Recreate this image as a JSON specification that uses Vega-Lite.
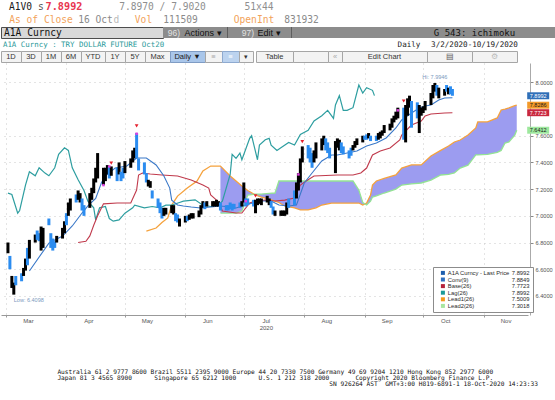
{
  "$schema": "https://vega.github.io/schema/vega-lite/v6.json",
  "background": "#ffffff",
  "padding": 0,
  "spacing": 0,
  "data": {"values": [{}]},
  "config": {
    "view": {"stroke": null}, "concat": {"spacing": 0}, "font": "Liberation Sans",
    "axisY": {"labelFontSize": 5.6, "labelColor": "#555555", "tickSize": 3, "tickColor": "#888888", "domainColor": "#aaaaaa", "offset": 2, "labelPadding": 2, "grid": true, "gridDash": [1, 4], "gridColor": "#c8c8c8", "labelOverlap": false}
  },
  "datasets": {
    "bars": [
      {"d":"2020-03-02","l":6.72,"h":6.80,"k":"up"},{"d":"2020-03-03","l":6.60,"h":6.70,"k":"dn"},{"d":"2020-03-04","l":6.46,"h":6.55,"k":"up"},{"d":"2020-03-05","l":6.41,"h":6.50,"k":"up"},{"d":"2020-03-06","l":6.48,"h":6.55,"k":"dn"},
      {"d":"2020-03-09","l":6.51,"h":6.57,"k":"dn"},{"d":"2020-03-10","l":6.55,"h":6.61,"k":"up"},{"d":"2020-03-11","l":6.59,"h":6.68,"k":"up"},{"d":"2020-03-12","l":6.63,"h":6.76,"k":"dn"},{"d":"2020-03-13","l":6.68,"h":6.82,"k":"up"},
      {"d":"2020-03-16","l":6.80,"h":6.86,"k":"up"},{"d":"2020-03-17","l":6.82,"h":6.89,"k":"dn"},{"d":"2020-03-18","l":6.81,"h":6.87,"k":"dn"},{"d":"2020-03-19","l":6.74,"h":6.92,"k":"up"},{"d":"2020-03-20","l":6.76,"h":6.91,"k":"up"},
      {"d":"2020-03-23","l":6.93,"h":6.98,"k":"dn"},{"d":"2020-03-24","l":6.76,"h":6.87,"k":"dn"},{"d":"2020-03-25","l":6.74,"h":6.83,"k":"dn"},{"d":"2020-03-26","l":6.76,"h":6.81,"k":"dn"},{"d":"2020-03-27","l":6.80,"h":6.85,"k":"up"},
      {"d":"2020-03-30","l":6.83,"h":6.91,"k":"up"},{"d":"2020-03-31","l":6.87,"h":6.96,"k":"up"},{"d":"2020-04-01","l":6.93,"h":7.02,"k":"dn"},{"d":"2020-04-02","l":7.00,"h":7.10,"k":"up"},{"d":"2020-04-03","l":7.04,"h":7.13,"k":"up"},
      {"d":"2020-04-06","l":7.10,"h":7.16,"k":"dn"},{"d":"2020-04-07","l":7.12,"h":7.19,"k":"up"},{"d":"2020-04-08","l":7.10,"h":7.17,"k":"up"},{"d":"2020-04-09","l":7.04,"h":7.13,"k":"dn"},{"d":"2020-04-10","l":7.00,"h":7.08,"k":"dn"},
      {"d":"2020-04-13","l":7.06,"h":7.17,"k":"up"},{"d":"2020-04-14","l":7.12,"h":7.21,"k":"up"},{"d":"2020-04-15","l":7.17,"h":7.28,"k":"up"},{"d":"2020-04-16","l":7.25,"h":7.36,"k":"up"},{"d":"2020-04-17","l":7.28,"h":7.47,"k":"up"},
      {"d":"2020-04-20","l":7.23,"h":7.36,"k":"up"},{"d":"2020-04-21","l":7.26,"h":7.36,"k":"up"},{"d":"2020-04-22","l":7.31,"h":7.38,"k":"up"},{"d":"2020-04-23","l":7.28,"h":7.37,"k":"dn"},{"d":"2020-04-24","l":7.30,"h":7.37,"k":"up"},
      {"d":"2020-04-27","l":7.26,"h":7.36,"k":"dn"},{"d":"2020-04-28","l":7.31,"h":7.40,"k":"up"},{"d":"2020-04-29","l":7.26,"h":7.33,"k":"dn"},{"d":"2020-04-30","l":7.28,"h":7.36,"k":"dn"},{"d":"2020-05-01","l":7.32,"h":7.41,"k":"up"},
      {"d":"2020-05-04","l":7.36,"h":7.43,"k":"up"},{"d":"2020-05-05","l":7.40,"h":7.49,"k":"up"},{"d":"2020-05-06","l":7.43,"h":7.51,"k":"up"},{"d":"2020-05-07","l":7.43,"h":7.62,"k":"dn"},{"d":"2020-05-08","l":7.34,"h":7.43,"k":"dn"},
      {"d":"2020-05-11","l":7.31,"h":7.40,"k":"dn"},{"d":"2020-05-12","l":7.25,"h":7.32,"k":"dn"},{"d":"2020-05-13","l":7.22,"h":7.27,"k":"up"},{"d":"2020-05-14","l":7.21,"h":7.26,"k":"up"},{"d":"2020-05-15","l":7.13,"h":7.19,"k":"dn"},
      {"d":"2020-05-18","l":7.06,"h":7.13,"k":"dn"},{"d":"2020-05-19","l":7.02,"h":7.10,"k":"dn"},{"d":"2020-05-20","l":6.98,"h":7.06,"k":"dn"},{"d":"2020-05-21","l":7.00,"h":7.06,"k":"up"},{"d":"2020-05-22","l":7.01,"h":7.06,"k":"up"},
      {"d":"2020-05-25","l":7.02,"h":7.08,"k":"up"},{"d":"2020-05-26","l":7.01,"h":7.08,"k":"up"},{"d":"2020-05-27","l":6.96,"h":7.02,"k":"dn"},{"d":"2020-05-28","l":6.95,"h":7.01,"k":"dn"},{"d":"2020-05-29","l":6.92,"h":6.98,"k":"up"},
      {"d":"2020-06-01","l":6.95,"h":7.00,"k":"up"},{"d":"2020-06-02","l":6.96,"h":7.00,"k":"dn"},{"d":"2020-06-03","l":6.97,"h":7.01,"k":"up"},{"d":"2020-06-04","l":6.98,"h":7.02,"k":"up"},{"d":"2020-06-05","l":6.98,"h":7.02,"k":"up"},
      {"d":"2020-06-08","l":6.99,"h":7.04,"k":"up"},{"d":"2020-06-09","l":7.01,"h":7.08,"k":"up"},{"d":"2020-06-10","l":7.06,"h":7.11,"k":"up"},{"d":"2020-06-11","l":7.05,"h":7.10,"k":"dn"},{"d":"2020-06-12","l":7.07,"h":7.11,"k":"up"},
      {"d":"2020-06-15","l":7.07,"h":7.11,"k":"up"},{"d":"2020-06-16","l":7.07,"h":7.11,"k":"up"},{"d":"2020-06-17","l":7.07,"h":7.12,"k":"up"},{"d":"2020-06-18","l":7.07,"h":7.11,"k":"up"},{"d":"2020-06-19","l":7.04,"h":7.10,"k":"dn"},
      {"d":"2020-06-22","l":7.04,"h":7.08,"k":"dn"},{"d":"2020-06-23","l":7.04,"h":7.08,"k":"dn"},{"d":"2020-06-24","l":7.05,"h":7.10,"k":"dn"},{"d":"2020-06-25","l":7.04,"h":7.09,"k":"dn"},{"d":"2020-06-26","l":7.05,"h":7.09,"k":"dn"},
      {"d":"2020-06-29","l":7.06,"h":7.10,"k":"dn"},{"d":"2020-06-30","l":7.07,"h":7.11,"k":"up"},{"d":"2020-07-01","l":7.10,"h":7.25,"k":"up"},{"d":"2020-07-02","l":7.07,"h":7.13,"k":"dn"},{"d":"2020-07-03","l":7.08,"h":7.13,"k":"dn"},
      {"d":"2020-07-06","l":7.07,"h":7.12,"k":"dn"},{"d":"2020-07-07","l":7.02,"h":7.12,"k":"up"},{"d":"2020-07-08","l":7.08,"h":7.13,"k":"up"},{"d":"2020-07-09","l":7.09,"h":7.13,"k":"up"},{"d":"2020-07-10","l":7.08,"h":7.13,"k":"up"},
      {"d":"2020-07-13","l":7.10,"h":7.15,"k":"up"},{"d":"2020-07-14","l":7.08,"h":7.13,"k":"up"},{"d":"2020-07-15","l":7.06,"h":7.11,"k":"dn"},{"d":"2020-07-16","l":7.01,"h":7.07,"k":"dn"},{"d":"2020-07-17","l":7.00,"h":7.04,"k":"up"},
      {"d":"2020-07-20","l":7.00,"h":7.04,"k":"up"},{"d":"2020-07-21","l":7.00,"h":7.04,"k":"up"},{"d":"2020-07-22","l":7.00,"h":7.04,"k":"up"},{"d":"2020-07-23","l":7.01,"h":7.10,"k":"up"},{"d":"2020-07-24","l":7.06,"h":7.13,"k":"dn"},
      {"d":"2020-07-27","l":7.08,"h":7.19,"k":"dn"},{"d":"2020-07-28","l":7.13,"h":7.25,"k":"up"},{"d":"2020-07-29","l":7.19,"h":7.32,"k":"up"},{"d":"2020-07-30","l":7.25,"h":7.43,"k":"up"},{"d":"2020-07-31","l":7.40,"h":7.52,"k":"up"},
      {"d":"2020-08-03","l":7.43,"h":7.53,"k":"dn"},{"d":"2020-08-04","l":7.40,"h":7.51,"k":"dn"},{"d":"2020-08-05","l":7.36,"h":7.47,"k":"dn"},{"d":"2020-08-06","l":7.40,"h":7.49,"k":"up"},{"d":"2020-08-07","l":7.43,"h":7.55,"k":"up"},
      {"d":"2020-08-10","l":7.49,"h":7.58,"k":"up"},{"d":"2020-08-11","l":7.53,"h":7.60,"k":"up"},{"d":"2020-08-12","l":7.49,"h":7.58,"k":"dn"},{"d":"2020-08-13","l":7.47,"h":7.55,"k":"dn"},{"d":"2020-08-14","l":7.43,"h":7.51,"k":"dn"},
      {"d":"2020-08-17","l":7.32,"h":7.56,"k":"up"},{"d":"2020-08-18","l":7.51,"h":7.58,"k":"up"},{"d":"2020-08-19","l":7.49,"h":7.57,"k":"up"},{"d":"2020-08-20","l":7.47,"h":7.55,"k":"dn"},{"d":"2020-08-21","l":7.46,"h":7.52,"k":"dn"},
      {"d":"2020-08-24","l":7.43,"h":7.49,"k":"dn"},{"d":"2020-08-25","l":7.45,"h":7.51,"k":"dn"},{"d":"2020-08-26","l":7.49,"h":7.53,"k":"up"},{"d":"2020-08-27","l":7.51,"h":7.56,"k":"up"},{"d":"2020-08-28","l":7.53,"h":7.58,"k":"up"},
      {"d":"2020-08-31","l":7.55,"h":7.60,"k":"up"},{"d":"2020-09-01","l":7.57,"h":7.60,"k":"dn"},{"d":"2020-09-02","l":7.57,"h":7.61,"k":"dn"},{"d":"2020-09-03","l":7.58,"h":7.62,"k":"up"},{"d":"2020-09-04","l":7.56,"h":7.60,"k":"dn"},
      {"d":"2020-09-07","l":7.56,"h":7.60,"k":"dn"},{"d":"2020-09-08","l":7.57,"h":7.62,"k":"up"},{"d":"2020-09-09","l":7.58,"h":7.63,"k":"up"},{"d":"2020-09-10","l":7.60,"h":7.64,"k":"up"},{"d":"2020-09-11","l":7.62,"h":7.68,"k":"up"},
      {"d":"2020-09-14","l":7.64,"h":7.69,"k":"up"},{"d":"2020-09-15","l":7.66,"h":7.73,"k":"up"},{"d":"2020-09-16","l":7.70,"h":7.75,"k":"up"},{"d":"2020-09-17","l":7.72,"h":7.78,"k":"up"},{"d":"2020-09-18","l":7.73,"h":7.81,"k":"up"},
      {"d":"2020-09-21","l":7.57,"h":7.81,"k":"dn"},{"d":"2020-09-22","l":7.55,"h":7.83,"k":"up"},{"d":"2020-09-23","l":7.75,"h":7.88,"k":"up"},{"d":"2020-09-24","l":7.81,"h":7.90,"k":"up"},{"d":"2020-09-25","l":7.66,"h":7.86,"k":"dn"},
      {"d":"2020-09-28","l":7.73,"h":7.85,"k":"dn"},{"d":"2020-09-29","l":7.62,"h":7.83,"k":"up"},{"d":"2020-09-30","l":7.75,"h":7.81,"k":"up"},{"d":"2020-10-01","l":7.77,"h":7.82,"k":"up"},{"d":"2020-10-02","l":7.79,"h":7.86,"k":"up"},
      {"d":"2020-10-05","l":7.83,"h":7.92,"k":"up"},{"d":"2020-10-06","l":7.88,"h":7.98,"k":"up"},{"d":"2020-10-07","l":7.93,"h":7.9946,"k":"up"},{"d":"2020-10-08","l":7.90,"h":7.98,"k":"dn"},{"d":"2020-10-09","l":7.88,"h":7.96,"k":"up"},
      {"d":"2020-10-12","l":7.90,"h":7.95,"k":"up"},{"d":"2020-10-13","l":7.93,"h":7.98,"k":"dn"},{"d":"2020-10-14","l":7.91,"h":7.96,"k":"up"},{"d":"2020-10-15","l":7.91,"h":7.97,"k":"dn"},{"d":"2020-10-16","l":7.8992,"h":7.95,"k":"dn"}
    ],
    "conv": [
      {"d":"2020-03-13","v":6.587},{"d":"2020-03-23","v":6.796},{"d":"2020-03-30","v":6.849},{"d":"2020-04-04","v":6.924},{"d":"2020-04-09","v":7.021},{"d":"2020-04-12","v":7.074},{"d":"2020-04-16","v":7.13},{"d":"2020-04-19","v":7.25},{"d":"2020-04-21","v":7.30},{"d":"2020-04-26","v":7.358},{"d":"2020-05-02","v":7.373},{"d":"2020-05-07","v":7.433},{"d":"2020-05-12","v":7.433},{"d":"2020-05-17","v":7.381},{"d":"2020-05-21","v":7.298},{"d":"2020-05-24","v":7.208},{"d":"2020-05-25","v":7.118},{"d":"2020-05-28","v":7.081},{"d":"2020-05-31","v":7.074},{"d":"2020-06-04","v":7.066},{"d":"2020-06-09","v":7.059},{"d":"2020-06-14","v":7.066},{"d":"2020-06-19","v":7.074},{"d":"2020-06-24","v":7.066},{"d":"2020-06-27","v":7.059},{"d":"2020-07-02","v":7.081},{"d":"2020-07-09","v":7.111},{"d":"2020-07-15","v":7.111},{"d":"2020-07-19","v":7.081},{"d":"2020-07-24","v":7.074},{"d":"2020-07-28","v":7.081},{"d":"2020-08-01","v":7.246},{"d":"2020-08-05","v":7.321},{"d":"2020-08-10","v":7.411},{"d":"2020-08-15","v":7.456},{"d":"2020-08-18","v":7.456},{"d":"2020-08-23","v":7.471},{"d":"2020-08-28","v":7.486},{"d":"2020-09-02","v":7.523},{"d":"2020-09-07","v":7.545},{"d":"2020-09-12","v":7.583},{"d":"2020-09-17","v":7.658},{"d":"2020-09-20","v":7.718},{"d":"2020-09-25","v":7.770},{"d":"2020-09-29","v":7.808},{"d":"2020-10-02","v":7.823},{"d":"2020-10-05","v":7.830},{"d":"2020-10-09","v":7.868},{"d":"2020-10-12","v":7.882},{"d":"2020-10-16","v":7.8849}
    ],
    "base": [
      {"d":"2020-04-07","v":6.80},{"d":"2020-04-11","v":6.81},{"d":"2020-04-13","v":6.85},{"d":"2020-04-15","v":6.93},{"d":"2020-04-17","v":7.00},{"d":"2020-04-20","v":7.09},{"d":"2020-04-27","v":7.096},{"d":"2020-05-04","v":7.096},{"d":"2020-05-07","v":7.193},{"d":"2020-05-08","v":7.306},{"d":"2020-05-10","v":7.321},{"d":"2020-05-14","v":7.313},{"d":"2020-05-20","v":7.306},{"d":"2020-05-28","v":7.298},{"d":"2020-06-04","v":7.268},{"d":"2020-06-10","v":7.231},{"d":"2020-06-13","v":7.208},{"d":"2020-06-14","v":7.156},{"d":"2020-06-17","v":7.118},{"d":"2020-06-19","v":7.074},{"d":"2020-06-20","v":7.036},{"d":"2020-06-27","v":7.021},{"d":"2020-06-30","v":7.021},{"d":"2020-07-04","v":7.096},{"d":"2020-07-07","v":7.111},{"d":"2020-07-12","v":7.118},{"d":"2020-07-17","v":7.111},{"d":"2020-07-22","v":7.118},{"d":"2020-07-27","v":7.133},{"d":"2020-07-30","v":7.231},{"d":"2020-08-02","v":7.261},{"d":"2020-08-06","v":7.298},{"d":"2020-08-18","v":7.306},{"d":"2020-08-26","v":7.306},{"d":"2020-08-30","v":7.321},{"d":"2020-09-02","v":7.358},{"d":"2020-09-05","v":7.456},{"d":"2020-09-09","v":7.486},{"d":"2020-09-14","v":7.508},{"d":"2020-09-19","v":7.568},{"d":"2020-09-20","v":7.605},{"d":"2020-09-25","v":7.680},{"d":"2020-09-30","v":7.710},{"d":"2020-10-02","v":7.748},{"d":"2020-10-05","v":7.763},{"d":"2020-10-12","v":7.770},{"d":"2020-10-16","v":7.7723}
    ],
    "lag": [
      {"d":"2020-03-02","v":7.17},{"d":"2020-03-04","v":7.16},{"d":"2020-03-07","v":7.02},{"d":"2020-03-08","v":7.04},{"d":"2020-03-11","v":7.23},{"d":"2020-03-13","v":7.33},{"d":"2020-03-16","v":7.30},{"d":"2020-03-18","v":7.36},{"d":"2020-03-21","v":7.32},{"d":"2020-03-23","v":7.30},{"d":"2020-03-26","v":7.36},{"d":"2020-03-28","v":7.46},{"d":"2020-03-31","v":7.51},{"d":"2020-04-02","v":7.49},{"d":"2020-04-04","v":7.36},{"d":"2020-04-07","v":7.27},{"d":"2020-04-10","v":7.19},{"d":"2020-04-12","v":7.11},{"d":"2020-04-15","v":7.06},{"d":"2020-04-16","v":6.97},{"d":"2020-04-18","v":7.06},{"d":"2020-04-21","v":7.07},{"d":"2020-04-23","v":6.98},{"d":"2020-04-25","v":6.96},{"d":"2020-04-28","v":6.97},{"d":"2020-05-01","v":7.02},{"d":"2020-05-05","v":7.06},{"d":"2020-05-06","v":7.08},{"d":"2020-05-11","v":7.06},{"d":"2020-05-15","v":7.07},{"d":"2020-05-19","v":7.06},{"d":"2020-05-22","v":7.08},{"d":"2020-05-25","v":7.08},{"d":"2020-05-29","v":7.10},{"d":"2020-05-31","v":7.11},{"d":"2020-06-06","v":7.12},{"d":"2020-06-10","v":7.08},{"d":"2020-06-14","v":7.07},{"d":"2020-06-17","v":7.07},{"d":"2020-06-20","v":7.11},{"d":"2020-06-24","v":7.31},{"d":"2020-06-25","v":7.46},{"d":"2020-06-27","v":7.43},{"d":"2020-06-29","v":7.47},{"d":"2020-06-30","v":7.42},{"d":"2020-07-04","v":7.58},{"d":"2020-07-05","v":7.60},{"d":"2020-07-08","v":7.42},{"d":"2020-07-09","v":7.53},{"d":"2020-07-12","v":7.57},{"d":"2020-07-14","v":7.58},{"d":"2020-07-15","v":7.53},{"d":"2020-07-18","v":7.49},{"d":"2020-07-20","v":7.51},{"d":"2020-07-24","v":7.55},{"d":"2020-07-27","v":7.53},{"d":"2020-07-30","v":7.61},{"d":"2020-08-03","v":7.64},{"d":"2020-08-06","v":7.71},{"d":"2020-08-10","v":7.75},{"d":"2020-08-13","v":7.79},{"d":"2020-08-16","v":7.73},{"d":"2020-08-17","v":7.83},{"d":"2020-08-19","v":7.90},{"d":"2020-08-21","v":7.79},{"d":"2020-08-23","v":7.79},{"d":"2020-08-26","v":7.81},{"d":"2020-08-29","v":7.98},{"d":"2020-08-31","v":7.92},{"d":"2020-09-02","v":7.96},{"d":"2020-09-05","v":7.94},{"d":"2020-09-06","v":7.90}
    ],
    "lead": [
      {"d":"2020-05-12","a":6.886,"b":null},{"d":"2020-05-17","a":6.909,"b":null},{"d":"2020-05-20","a":6.95,"b":null},{"d":"2020-05-23","a":6.984,"b":null},{"d":"2020-05-25","a":7.081,"b":null},{"d":"2020-05-28","a":7.148,"b":null},{"d":"2020-06-02","a":7.208,"b":null},{"d":"2020-06-07","a":7.261,"b":null},{"d":"2020-06-10","a":7.336,"b":null},{"d":"2020-06-14","a":7.373,"b":null},{"d":"2020-06-18","a":7.373,"b":null},
      {"d":"2020-06-19","a":7.373,"b":7.021},{"d":"2020-06-24","a":7.298,"b":7.021},{"d":"2020-06-27","a":7.261,"b":7.021},{"d":"2020-06-30","a":7.223,"b":7.036},{"d":"2020-07-03","a":7.19,"b":7.156},{"d":"2020-07-07","a":7.156,"b":7.163},{"d":"2020-07-10","a":7.14,"b":7.163},{"d":"2020-07-14","a":7.125,"b":7.168},{"d":"2020-07-17","a":7.111,"b":7.171},{"d":"2020-07-19","a":7.10,"b":7.261},{"d":"2020-07-22","a":7.074,"b":7.261},{"d":"2020-07-27","a":7.059,"b":7.261},{"d":"2020-07-30","a":7.044,"b":7.261},{"d":"2020-08-03","a":7.044,"b":7.261},{"d":"2020-08-07","a":7.06,"b":7.261},{"d":"2020-08-10","a":7.081,"b":7.261},{"d":"2020-08-15","a":7.096,"b":7.261},{"d":"2020-08-20","a":7.096,"b":7.261},{"d":"2020-08-26","a":7.096,"b":7.261},{"d":"2020-08-29","a":7.096,"b":7.193},{"d":"2020-08-31","a":7.081,"b":7.10},{"d":"2020-09-02","a":7.096,"b":7.081},{"d":"2020-09-04","a":7.156,"b":7.11},{"d":"2020-09-05","a":7.231,"b":7.141},{"d":"2020-09-07","a":7.261,"b":7.15},{"d":"2020-09-11","a":7.28,"b":7.171},{"d":"2020-09-17","a":7.306,"b":7.20},{"d":"2020-09-20","a":7.358,"b":7.231},{"d":"2020-09-25","a":7.381,"b":7.24},{"d":"2020-09-30","a":7.381,"b":7.246},{"d":"2020-10-05","a":7.448,"b":7.268},{"d":"2020-10-10","a":7.49,"b":7.306},{"d":"2020-10-14","a":7.523,"b":7.31},{"d":"2020-10-17","a":7.553,"b":7.321},{"d":"2020-10-20","a":7.568,"b":7.358},{"d":"2020-10-24","a":7.605,"b":7.38},{"d":"2020-10-28","a":7.658,"b":7.456},{"d":"2020-10-29","a":7.703,"b":7.456},{"d":"2020-11-03","a":7.703,"b":7.46},{"d":"2020-11-08","a":7.733,"b":7.475},{"d":"2020-11-10","a":7.793,"b":7.49},{"d":"2020-11-12","a":7.80,"b":7.545},{"d":"2020-11-14","a":7.808,"b":7.553},{"d":"2020-11-17","a":7.825,"b":7.605},{"d":"2020-11-18","a":7.8286,"b":7.6412}
    ],
    "tri": [{"d":"2020-04-24","v":7.395},{"d":"2020-05-07","v":7.673},{"d":"2020-07-07","v":7.15},{"d":"2020-07-31","v":7.555},{"d":"2020-09-21","v":7.86}],
    "mag": [{"d":"2020-04-20","v":7.23},{"d":"2020-04-23","v":7.37},{"d":"2020-05-07","v":7.615},{"d":"2020-07-02","v":7.11},{"d":"2020-07-29","v":7.31},{"d":"2020-09-18","v":7.79}],
    "notes": [{"d":"2020-10-07","v":7.9946,"t":"Hi: 7.9946","k":"hi"},{"d":"2020-03-05","v":6.4098,"t":"Low: 6.4098","k":"low"}],
    "lastvals": [{"s":"last","v":7.8992},{"s":"lead1","v":7.8286},{"s":"base","v":7.7723},{"s":"lead2","v":7.6412}],
    "legend": [{"series":"A1A Curncy - Last Price","row":1},{"series":"Conv(9)","row":2},{"series":"Base(26)","row":3},{"series":"Lag(26)","row":4},{"series":"Lead1(26)","row":5},{"series":"Lead2(26)","row":6}]
  },
  "vconcat": [
    {"hconcat": [
      {"width": 8, "height": 13, "mark": {"type": "text", "text": ""}},
      {"width": 23, "height": 13, "mark": {"type": "text", "text": "A1V0", "font": "DejaVu Sans Mono", "fontSize": 9.6, "color": "#1a1a1a"}},
      {"width": 6, "height": 13, "mark": {"type": "text", "text": ""}},
      {"width": 6, "height": 13, "mark": {"type": "text", "text": "s", "font": "DejaVu Sans Mono", "fontSize": 9.6, "color": "#555555"}},
      {"width": 40, "height": 13, "mark": {"type": "text", "text": "7.8992", "font": "DejaVu Sans Mono", "fontSize": 10.2, "fontWeight": "bold", "color": "#e8364f"}},
      {"width": 35, "height": 13, "mark": {"type": "text", "text": ""}},
      {"width": 87, "height": 13, "mark": {"type": "text", "text": "7.8970 / 7.9020", "font": "DejaVu Sans Mono", "fontSize": 9.6, "color": "#8f8f8f"}},
      {"width": 37, "height": 13, "mark": {"type": "text", "text": ""}},
      {"width": 32, "height": 13, "mark": {"type": "text", "text": "51x44", "font": "DejaVu Sans Mono", "fontSize": 9.6, "color": "#8f8f8f"}}
    ], "spacing": 0, "bounds": "flush"},
    {"hconcat": [
      {"width": 8, "height": 13, "mark": {"type": "text", "text": ""}},
      {"width": 64, "height": 13, "mark": {"type": "text", "text": "As of Close", "font": "DejaVu Sans Mono", "fontSize": 9.6, "color": "#f2a25a"}},
      {"width": 5, "height": 13, "mark": {"type": "text", "text": ""}},
      {"width": 35, "height": 13, "mark": {"type": "text", "text": "16 Oct", "font": "DejaVu Sans Mono", "fontSize": 9.6, "color": "#8a8a8a"}},
      {"width": 7, "height": 13, "mark": {"type": "text", "text": "d", "font": "DejaVu Sans Mono", "fontSize": 9.6, "color": "#bbbbbb"}},
      {"width": 15, "height": 13, "mark": {"type": "text", "text": ""}},
      {"width": 17, "height": 13, "mark": {"type": "text", "text": "Vol", "font": "DejaVu Sans Mono", "fontSize": 9.6, "color": "#f2a25a"}},
      {"width": 11, "height": 13, "mark": {"type": "text", "text": ""}},
      {"width": 35, "height": 13, "mark": {"type": "text", "text": "111509", "font": "DejaVu Sans Mono", "fontSize": 9.6, "color": "#8a8a8a"}},
      {"width": 36, "height": 13, "mark": {"type": "text", "text": ""}},
      {"width": 40, "height": 13, "mark": {"type": "text", "text": "OpenInt", "font": "DejaVu Sans Mono", "fontSize": 9.6, "color": "#f2a25a"}},
      {"width": 10, "height": 13, "mark": {"type": "text", "text": ""}},
      {"width": 35, "height": 13, "mark": {"type": "text", "text": "831932", "font": "DejaVu Sans Mono", "fontSize": 9.6, "color": "#8a8a8a"}}
    ], "spacing": 0, "bounds": "flush"},
    {"hconcat": [
      {"width": 162, "height": 11, "view": {"fill": "#d9d9d9", "stroke": "#4d4d4d"}, "mark": {"type": "text", "text": "A1A\u00a0Curncy\u00a0\u00a0\u00a0\u00a0\u00a0\u00a0\u00a0\u00a0\u00a0\u00a0\u00a0\u00a0\u00a0\u00a0\u00a0\u00a0\u00a0\u200b", "font": "DejaVu Sans Mono", "fontSize": 9.6, "color": "#111111"}},
      {"width": 3, "height": 11, "view": {"fill": "#8c8c8c"}, "mark": {"type": "text", "text": ""}},
      {"width": 16, "height": 11, "view": {"fill": "#8c8c8c"}, "mark": {"type": "text", "text": "96)", "fontSize": 8.5, "color": "#e2e2e2"}},
      {"width": 42, "height": 11, "view": {"fill": "#8c8c8c"}, "mark": {"type": "text", "text": "Actions \u25be", "fontSize": 9, "color": "#111111"}},
      {"width": 3, "height": 11, "view": {"fill": "#8c8c8c"}, "mark": {"type": "text", "text": ""}},
      {"width": 1, "height": 11, "view": {"fill": "#5e5e5e"}, "mark": {"type": "text", "text": ""}},
      {"width": 12, "height": 11, "view": {"fill": "#8c8c8c"}, "mark": {"type": "text", "text": ""}},
      {"width": 16, "height": 11, "view": {"fill": "#8c8c8c"}, "mark": {"type": "text", "text": "97)", "fontSize": 8.5, "color": "#e2e2e2"}},
      {"width": 26, "height": 11, "view": {"fill": "#8c8c8c"}, "mark": {"type": "text", "text": "Edit \u25be", "fontSize": 9, "color": "#111111"}},
      {"width": 9, "height": 11, "view": {"fill": "#8c8c8c"}, "mark": {"type": "text", "text": ""}},
      {"width": 1, "height": 11, "view": {"fill": "#5e5e5e"}, "mark": {"type": "text", "text": ""}},
      {"width": 140, "height": 11, "view": {"fill": "#8c8c8c"}, "mark": {"type": "text", "text": ""}},
      {"width": 85, "height": 11, "view": {"fill": "#8c8c8c"}, "mark": {"type": "text", "text": "G 543: ichimoku", "font": "DejaVu Sans Mono", "fontSize": 9, "color": "#111111"}},
      {"width": 39, "height": 11, "view": {"fill": "#8c8c8c"}, "mark": {"type": "text", "text": ""}}
    ], "spacing": 0, "bounds": "flush"},
    {"hconcat": [
      {"width": 2, "height": 10, "mark": {"type": "text", "text": ""}},
      {"width": 161, "height": 10, "mark": {"type": "text", "text": "A1A Curncy : TRY DOLLAR FUTURE Oct20", "font": "DejaVu Sans Mono", "fontSize": 7.45, "color": "#2a9a9a"}},
      {"width": 234, "height": 10, "mark": {"type": "text", "text": ""}},
      {"width": 22, "height": 10, "mark": {"type": "text", "text": "Daily", "font": "DejaVu Sans Mono", "fontSize": 7.6, "color": "#1a1a1a"}},
      {"width": 9, "height": 10, "mark": {"type": "text", "text": ""}},
      {"width": 91, "height": 10, "mark": {"type": "text", "text": "3/2/2020-10/19/2020", "font": "DejaVu Sans Mono", "fontSize": 7.6, "color": "#1a1a1a"}}
    ], "spacing": 0, "bounds": "flush"},
    {"hconcat": [
      {"width": 20, "height": 11, "view": {"fill": "#f3f3f3", "stroke": "#a6a6a6"}, "mark": {"type": "text", "text": "1D", "fontSize": 7.5, "color": "#333333"}},
      {"width": 20, "height": 11, "view": {"fill": "#f3f3f3", "stroke": "#a6a6a6"}, "mark": {"type": "text", "text": "3D", "fontSize": 7.5, "color": "#333333"}},
      {"width": 20, "height": 11, "view": {"fill": "#f3f3f3", "stroke": "#a6a6a6"}, "mark": {"type": "text", "text": "1M", "fontSize": 7.5, "color": "#333333"}},
      {"width": 20, "height": 11, "view": {"fill": "#f3f3f3", "stroke": "#a6a6a6"}, "mark": {"type": "text", "text": "6M", "fontSize": 7.5, "color": "#333333"}},
      {"width": 24, "height": 11, "view": {"fill": "#f3f3f3", "stroke": "#a6a6a6"}, "mark": {"type": "text", "text": "YTD", "fontSize": 7.5, "color": "#333333"}},
      {"width": 20, "height": 11, "view": {"fill": "#f3f3f3", "stroke": "#a6a6a6"}, "mark": {"type": "text", "text": "1Y", "fontSize": 7.5, "color": "#333333"}},
      {"width": 20, "height": 11, "view": {"fill": "#f3f3f3", "stroke": "#a6a6a6"}, "mark": {"type": "text", "text": "5Y", "fontSize": 7.5, "color": "#333333"}},
      {"width": 25, "height": 11, "view": {"fill": "#f3f3f3", "stroke": "#a6a6a6"}, "mark": {"type": "text", "text": "Max", "fontSize": 7.5, "color": "#333333"}},
      {"width": 35, "height": 11, "view": {"fill": "#a9c6ea", "stroke": "#7f9cc4"}, "mark": {"type": "text", "text": "Daily \u25bc", "fontSize": 7.5, "color": "#1a1a1a"}},
      {"width": 17, "height": 11, "view": {"fill": "#f3f3f3", "stroke": "#a6a6a6"}, "mark": {"type": "text", "text": "\u2261", "fontSize": 7.5, "color": "#aaaaaa"}},
      {"width": 17, "height": 11, "view": {"fill": "#bcd3ef", "stroke": "#8eaad0"}, "mark": {"type": "text", "text": "\u2261", "fontSize": 7.5, "color": "#ffffff"}},
      {"width": 14, "height": 11, "view": {"fill": "#f3f3f3", "stroke": "#a6a6a6"}, "mark": {"type": "text", "text": "\u25be", "fontSize": 7, "color": "#333333"}},
      {"width": 3, "height": 11, "mark": {"type": "text", "text": ""}},
      {"width": 37, "height": 11, "view": {"fill": "#f3f3f3", "stroke": "#a6a6a6"}, "mark": {"type": "text", "text": "Table", "fontSize": 7.5, "color": "#333333"}},
      {"width": 35, "height": 11, "view": {"fill": "#f3f3f3", "stroke": "#a6a6a6"}, "mark": {"type": "text", "text": ""}},
      {"width": 14, "height": 11, "view": {"fill": "#f3f3f3", "stroke": "#a6a6a6"}, "mark": {"type": "text", "text": "\u00ab", "fontSize": 7.5, "color": "#aaaaaa"}},
      {"width": 85, "height": 11, "view": {"fill": "#f3f3f3", "stroke": "#a6a6a6"}, "mark": {"type": "text", "text": "Edit Chart", "fontSize": 7.5, "color": "#333333"}},
      {"width": 45, "height": 11, "view": {"fill": "#f3f3f3", "stroke": "#a6a6a6"}, "mark": {"type": "text", "text": "\u25a4", "fontSize": 7.5, "color": "#555555"}},
      {"width": 45, "height": 11, "view": {"fill": "#f3f3f3", "stroke": "#a6a6a6"}, "mark": {"type": "text", "text": "\u2699", "fontSize": 7.5, "color": "#bbbbbb"}},
      {"width": 39, "height": 11, "mark": {"type": "text", "text": ""}}
    ], "spacing": 0, "bounds": "flush"},
    {
      "width": 527,
      "height": 252,
      "layer": [
        {
          "data": {"name": "lead"},
          "transform": [{"filter": "datum.b != null"}],
          "mark": {"type": "area", "color": "#9c9cf0", "opacity": 1},
          "encoding": {
            "x": {"field": "d", "type": "temporal",
              "scale": {"type": "utc", "domain": [{"year": 2020, "month": 3, "date": 1, "utc": true}, {"year": 2020, "month": 11, "date": 21, "hours": 5, "utc": true}]},
              "axis": {"orient": "bottom", "tickCount": {"interval": "month", "step": 1},
                "labelExpr": "utcmonth(datum.value) == 6 ? ['Jul', '2020'] : utcFormat(datum.value, '%b')",
                "labelOffset": 22, "labelFontSize": 6, "labelColor": "#555555", "labelPadding": 0, "labelLineHeight": 7,
                "tickSize": 2, "tickColor": "#999999", "domainColor": "#999999",
                "grid": true, "gridDash": [1, 4], "gridColor": "#c8c8c8",
                "title": [
                  "\u200b\u00a0\u00a0\u00a0\u00a0\u00a0\u00a0\u00a0\u00a0\u00a0\u00a0\u00a0\u00a0\u00a0\u00a0\u00a0Australia 61 2 9777 8600 Brazil 5511 2395 9000 Europe 44 20 7330 7500 Germany 49 69 9204 1210 Hong Kong 852 2977 6000",
                  "\u200b\u00a0\u00a0\u00a0\u00a0\u00a0\u00a0\u00a0\u00a0\u00a0\u00a0\u00a0\u00a0\u00a0\u00a0\u00a0Japan 81 3 4565 8900\u00a0\u00a0\u00a0\u00a0\u00a0\u00a0Singapore 65 6212 1000\u00a0\u00a0\u00a0\u00a0\u00a0\u00a0U.S. 1 212 318 2000\u00a0\u00a0\u00a0\u00a0\u00a0\u00a0\u00a0Copyright 2020 Bloomberg Finance L.P.",
                  "\u200b\u00a0\u00a0\u00a0\u00a0\u00a0\u00a0\u00a0\u00a0\u00a0\u00a0\u00a0\u00a0\u00a0\u00a0\u00a0\u00a0\u00a0\u00a0\u00a0\u00a0\u00a0\u00a0\u00a0\u00a0\u00a0\u00a0\u00a0\u00a0\u00a0\u00a0\u00a0\u00a0\u00a0\u00a0\u00a0\u00a0\u00a0\u00a0\u00a0\u00a0\u00a0\u00a0\u00a0\u00a0\u00a0\u00a0\u00a0\u00a0\u00a0\u00a0\u00a0\u00a0\u00a0\u00a0\u00a0\u00a0\u00a0\u00a0\u00a0\u00a0\u00a0\u00a0\u00a0\u00a0\u00a0\u00a0\u00a0\u00a0\u00a0\u00a0\u00a0\u00a0\u00a0\u00a0\u00a0\u00a0\u00a0\u00a0\u00a0\u00a0\u00a0\u00a0\u00a0\u00a0\u00a0\u00a0\u00a0\u00a0SN 926264 AST\u00a0\u00a0GMT+3:00 H819-6891-1 18-Oct-2020 14:23:33"
                ],
                "titleFont": "DejaVu Sans Mono", "titleFontSize": 6.2, "titleFontWeight": "normal", "titleColor": "#111111",
                "titleAnchor": "start", "titleAlign": "left", "titlePadding": 38, "titleLineHeight": 6.2}},
            "y": {"field": "a", "type": "quantitative",
              "scale": {"domain": [6.2575, 8.1446], "nice": false, "zero": false},
              "axis": {"orient": "right", "values": [6.4, 6.6, 6.8, 7.0, 7.2, 7.4, 7.6, 8.0], "tickCount": 10, "format": ".4f", "labelExpr": "datum.value > 7.79 && datum.value < 7.81 ? '' : format(datum.value, '.4f')", "title": null}},
            "y2": {"field": "b"}
          }
        },
        {
          "data": {"name": "lead"},
          "mark": {"type": "line", "color": "#f5a23d", "strokeWidth": 1.3},
          "encoding": {
            "x": {"field": "d", "type": "temporal"},
            "y": {"field": "a", "type": "quantitative", "axis": {"orient": "right", "values": [6.4, 6.6, 6.8, 7.0, 7.2, 7.4, 7.6, 8.0], "tickCount": 10, "format": ".4f", "labelExpr": "datum.value > 7.79 && datum.value < 7.81 ? '' : format(datum.value, '.4f')", "title": null}}
          }
        },
        {
          "data": {"name": "lead"},
          "transform": [{"filter": "datum.b != null"}],
          "mark": {"type": "line", "color": "#94e394", "strokeWidth": 1.3},
          "encoding": {
            "x": {"field": "d", "type": "temporal"},
            "y": {"field": "b", "type": "quantitative", "axis": {"orient": "right", "values": [6.4, 6.6, 6.8, 7.0, 7.2, 7.4, 7.6, 8.0], "tickCount": 10, "format": ".4f", "labelExpr": "datum.value > 7.79 && datum.value < 7.81 ? '' : format(datum.value, '.4f')", "title": null}}
          }
        },
        {
          "data": {"name": "lag"},
          "mark": {"type": "line", "color": "#2e9ea0", "strokeWidth": 1.2},
          "encoding": {
            "x": {"field": "d", "type": "temporal"},
            "y": {"field": "v", "type": "quantitative", "axis": {"orient": "right", "values": [6.4, 6.6, 6.8, 7.0, 7.2, 7.4, 7.6, 8.0], "tickCount": 10, "format": ".4f", "labelExpr": "datum.value > 7.79 && datum.value < 7.81 ? '' : format(datum.value, '.4f')", "title": null}}
          }
        },
        {
          "data": {"name": "base"},
          "mark": {"type": "line", "color": "#c03a4c", "strokeWidth": 1.1},
          "encoding": {
            "x": {"field": "d", "type": "temporal"},
            "y": {"field": "v", "type": "quantitative", "axis": {"orient": "right", "values": [6.4, 6.6, 6.8, 7.0, 7.2, 7.4, 7.6, 8.0], "tickCount": 10, "format": ".4f", "labelExpr": "datum.value > 7.79 && datum.value < 7.81 ? '' : format(datum.value, '.4f')", "title": null}}
          }
        },
        {
          "data": {"name": "conv"},
          "mark": {"type": "line", "color": "#3a78c8", "strokeWidth": 1.1},
          "encoding": {
            "x": {"field": "d", "type": "temporal"},
            "y": {"field": "v", "type": "quantitative", "axis": {"orient": "right", "values": [6.4, 6.6, 6.8, 7.0, 7.2, 7.4, 7.6, 8.0], "tickCount": 10, "format": ".4f", "labelExpr": "datum.value > 7.79 && datum.value < 7.81 ? '' : format(datum.value, '.4f')", "title": null}}
          }
        },
        {
          "data": {"name": "bars"},
          "mark": {"type": "bar", "width": 3},
          "encoding": {
            "x": {"field": "d", "type": "temporal"},
            "y": {"field": "l", "type": "quantitative", "axis": {"orient": "right", "values": [6.4, 6.6, 6.8, 7.0, 7.2, 7.4, 7.6, 8.0], "tickCount": 10, "format": ".4f", "labelExpr": "datum.value > 7.79 && datum.value < 7.81 ? '' : format(datum.value, '.4f')", "title": null}},
            "y2": {"field": "h"},
            "color": {"field": "k", "type": "nominal", "scale": {"domain": ["up", "dn"], "range": ["#000000", "#2b8cf0"]}, "legend": null}
          }
        },
        {
          "data": {"name": "tri"},
          "mark": {"type": "point", "shape": "triangle-down", "filled": true, "size": 14, "color": "#e5202e", "opacity": 1},
          "encoding": {
            "x": {"field": "d", "type": "temporal"},
            "y": {"field": "v", "type": "quantitative", "axis": {"orient": "right", "values": [6.4, 6.6, 6.8, 7.0, 7.2, 7.4, 7.6, 8.0], "tickCount": 10, "format": ".4f", "labelExpr": "datum.value > 7.79 && datum.value < 7.81 ? '' : format(datum.value, '.4f')", "title": null}}
          }
        },
        {
          "data": {"name": "mag"},
          "mark": {"type": "point", "shape": "square", "filled": true, "size": 6, "color": "#e040e0", "opacity": 1},
          "encoding": {
            "x": {"field": "d", "type": "temporal"},
            "y": {"field": "v", "type": "quantitative", "axis": {"orient": "right", "values": [6.4, 6.6, 6.8, 7.0, 7.2, 7.4, 7.6, 8.0], "tickCount": 10, "format": ".4f", "labelExpr": "datum.value > 7.79 && datum.value < 7.81 ? '' : format(datum.value, '.4f')", "title": null}}
          }
        },
        {
          "data": {"name": "notes"},
          "transform": [{"filter": "datum.k == 'hi'"}],
          "mark": {"type": "text", "baseline": "bottom", "dy": -3, "fontSize": 5.5, "font": "Liberation Sans", "color": "#7b9ac0"},
          "encoding": {
            "x": {"field": "d", "type": "temporal"},
            "y": {"field": "v", "type": "quantitative", "axis": {"orient": "right", "values": [6.4, 6.6, 6.8, 7.0, 7.2, 7.4, 7.6, 8.0], "tickCount": 10, "format": ".4f", "labelExpr": "datum.value > 7.79 && datum.value < 7.81 ? '' : format(datum.value, '.4f')", "title": null}},
            "text": {"field": "t"}
          }
        },
        {
          "data": {"name": "notes"},
          "transform": [{"filter": "datum.k == 'low'"}],
          "mark": {"type": "text", "baseline": "top", "align": "left", "dy": 3, "fontSize": 5.5, "font": "Liberation Sans", "color": "#7b9ac0"},
          "encoding": {
            "x": {"field": "d", "type": "temporal"},
            "y": {"field": "v", "type": "quantitative", "axis": {"orient": "right", "values": [6.4, 6.6, 6.8, 7.0, 7.2, 7.4, 7.6, 8.0], "tickCount": 10, "format": ".4f", "labelExpr": "datum.value > 7.79 && datum.value < 7.81 ? '' : format(datum.value, '.4f')", "title": null}},
            "text": {"field": "t"}
          }
        },
        {
          "data": {"name": "lastvals"},
          "mark": {"type": "point", "shape": "M-1.2,-0.38H1.2V0.38H-1.2Z", "size": 336, "filled": true, "opacity": 1, "strokeWidth": 0},
          "encoding": {
            "x": {"datum": {"year": 2020, "month": 11, "date": 29, "utc": true}, "type": "temporal"},
            "y": {"field": "v", "type": "quantitative", "axis": {"orient": "right", "values": [6.4, 6.6, 6.8, 7.0, 7.2, 7.4, 7.6, 8.0], "tickCount": 10, "format": ".4f", "labelExpr": "datum.value > 7.79 && datum.value < 7.81 ? '' : format(datum.value, '.4f')", "title": null}},
            "color": {"field": "s", "type": "nominal", "scale": {"domain": ["last", "lead1", "base", "lead2"], "range": ["#2f6fb8", "#f39a2a", "#c9283e", "#9ee89e"]}, "legend": null}
          }
        },
        {
          "data": {"name": "lastvals"},
          "mark": {"type": "text", "fontSize": 5.5, "font": "Liberation Sans"},
          "encoding": {
            "x": {"datum": {"year": 2020, "month": 11, "date": 29, "utc": true}, "type": "temporal"},
            "y": {"field": "v", "type": "quantitative", "axis": {"orient": "right", "values": [6.4, 6.6, 6.8, 7.0, 7.2, 7.4, 7.6, 8.0], "tickCount": 10, "format": ".4f", "labelExpr": "datum.value > 7.79 && datum.value < 7.81 ? '' : format(datum.value, '.4f')", "title": null}},
            "text": {"field": "v", "type": "quantitative", "format": ".4f"},
            "color": {"field": "s", "type": "nominal", "scale": {"domain": ["last", "lead1", "base", "lead2"], "range": ["#ffffff", "#1a1a1a", "#ffffff", "#1a1a1a"]}, "legend": null}
          }
        },
        {
          "data": {"name": "legend"},
          "mark": {"type": "point", "opacity": 0, "filled": true, "size": 0},
          "encoding": {
            "color": {"field": "series", "type": "nominal",
              "scale": {"domain": ["A1A Curncy - Last Price", "Conv(9)", "Base(26)", "Lag(26)", "Lead1(26)", "Lead2(26)"], "range": ["#1f5fae", "#2f6fc0", "#b5223a", "#1a9a9a", "#f39a1d", "#a8e6a0"]},
              "legend": {"orient": "none", "legendX": 432, "legendY": 204, "zindex": 2, "title": null, "symbolType": "square", "symbolSize": 16, "symbolOpacity": 1, "symbolStrokeWidth": 0, "symbolOffset": 4, "labelOffset": 2, "labelFontSize": 5.8, "labelFont": "Liberation Sans", "labelColor": "#2a2a2a", "padding": 3, "rowPadding": -0.4}},
            "shape": {"field": "row", "type": "nominal",
              "legend": {"orient": "none", "legendX": 432, "legendY": 204, "zindex": 1, "title": null, "symbolOpacity": 0, "symbolSize": 0, "symbolStrokeWidth": 0, "symbolOffset": 0, "labelOffset": 70, "padding": 3, "labelFontSize": 5.8, "labelFont": "Liberation Sans", "labelColor": "#2a2a2a", "rowPadding": -0.4, "fillColor": "#ffffff", "strokeColor": "#8c8c8c",
                "labelExpr": "['7.8992', '7.8849', '7.7723', '7.8992', '7.5009', '7.3018'][datum.value - 1]"}}
          }
        }
      ],
      "resolve": {"scale": {"color": "independent", "shape": "independent"}}
    }
  ]
}
